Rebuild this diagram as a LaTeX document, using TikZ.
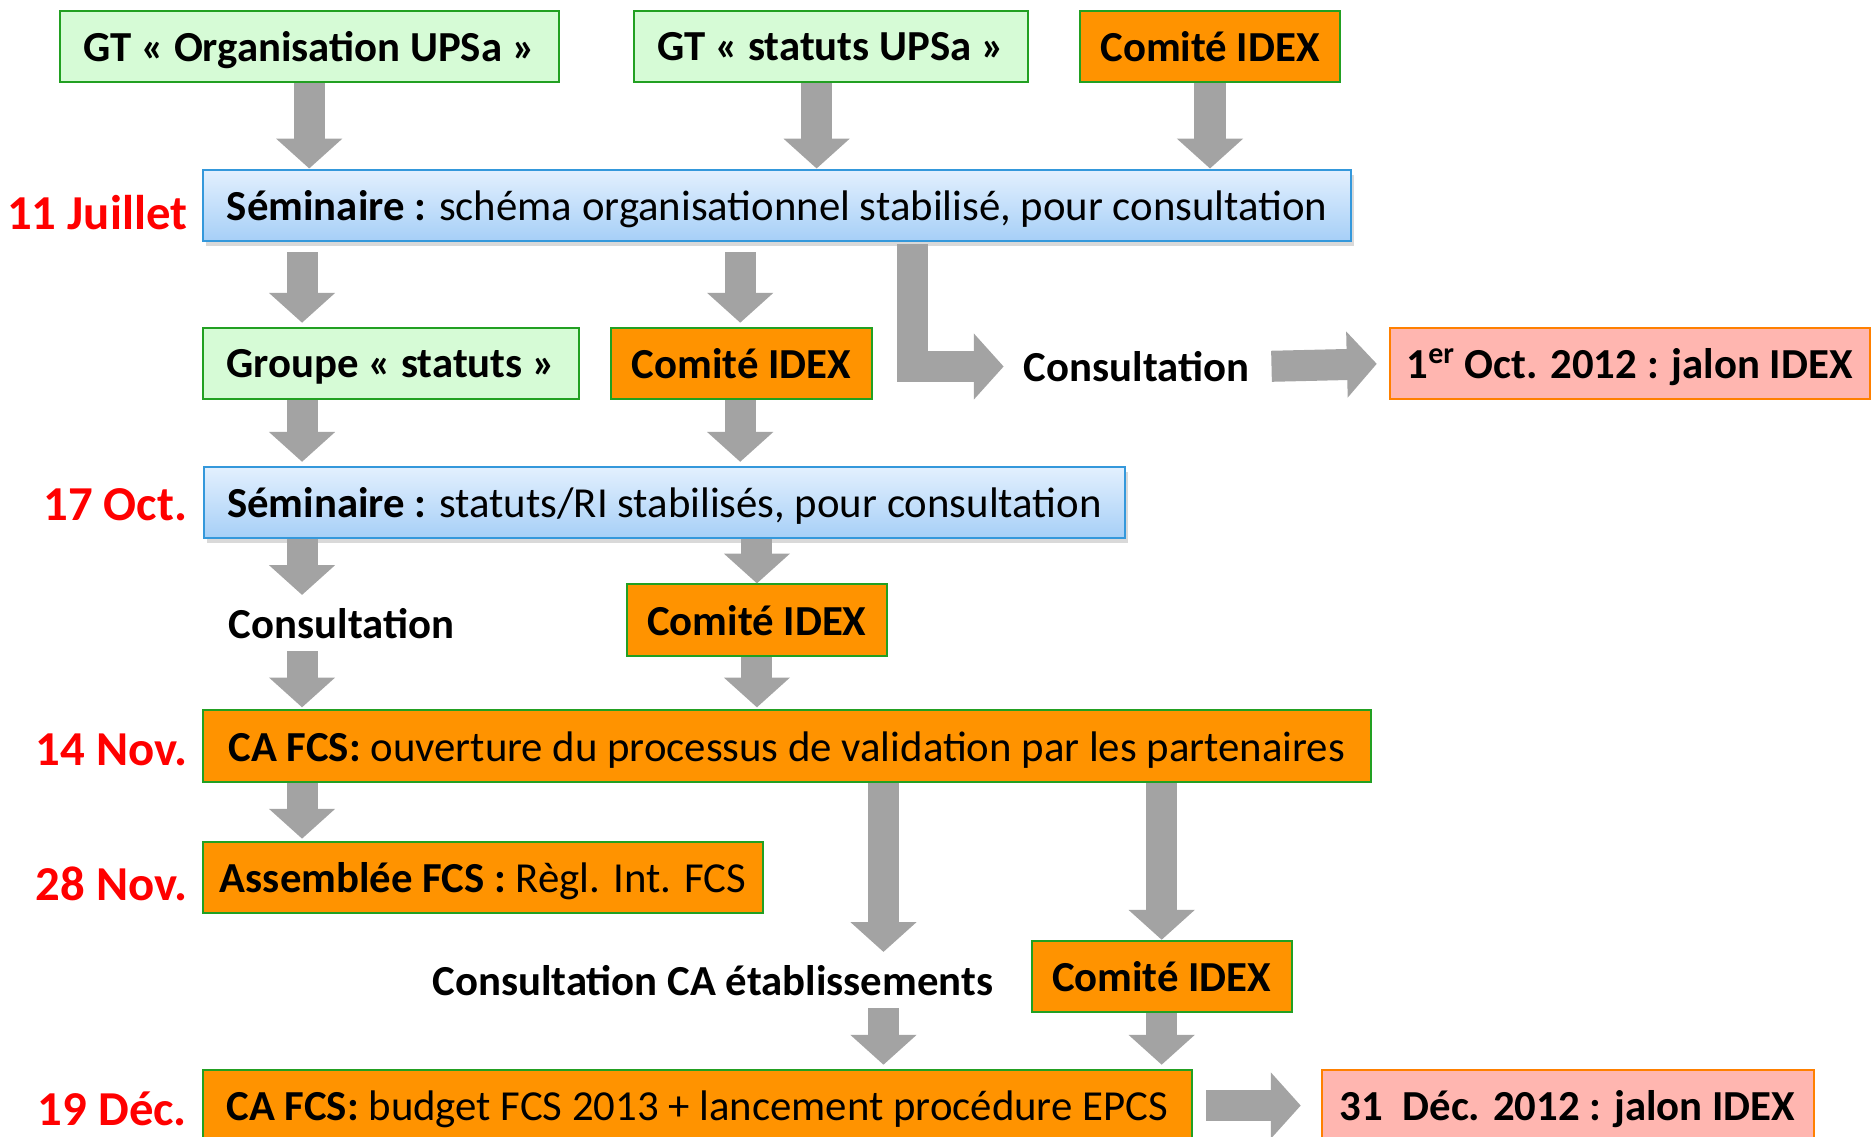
\documentclass[tikz,border=0pt]{standalone}
\usepackage{fontspec}
\setmainfont{Carlito}
\usetikzlibrary{arrows.meta, shadows}

\definecolor{gtgreen}{RGB}{214,251,214}
\definecolor{boxgreen}{RGB}{34,160,34}
\definecolor{idexorange}{RGB}{255,147,0}
\definecolor{jalonpink}{RGB}{255,182,176}
\definecolor{jalonedge}{RGB}{255,128,0}
\definecolor{semtop}{RGB}{227,240,254}
\definecolor{sembottom}{RGB}{166,207,247}
\definecolor{semedge}{RGB}{52,152,219}
\definecolor{arrowgray}{RGB}{163,163,163}

\tikzset{
  box/.style={draw, line width=1pt, minimum height=36pt, inner xsep=6pt, inner ysep=2pt, text depth=0pt, font=\fontsize{21.5}{25}\selectfont},
  gtbox/.style={box, fill=gtgreen, draw=boxgreen, font=\fontsize{21.5}{25}\selectfont\bfseries},
  idexbox/.style={box, fill=idexorange, draw=boxgreen, font=\fontsize{21.5}{25}\selectfont\bfseries},
  cabox/.style={box, fill=idexorange, draw=boxgreen},
  sembox/.style={box, top color=semtop, bottom color=sembottom, draw=semedge,
    drop shadow={opacity=0.3, shadow xshift=1.5pt, shadow yshift=-2.5pt}},
  jalonbox/.style={box, fill=jalonpink, draw=jalonedge, font=\fontsize{21.5}{25}\selectfont\bfseries},
  plain/.style={minimum height=28pt, inner xsep=6pt, text depth=0pt, font=\fontsize{21.5}{25}\selectfont\bfseries},
  date/.style={anchor=east, inner sep=0pt, text=red, font=\fontsize{24.5}{28}\selectfont\bfseries},
  flow/.style={draw=arrowgray, line width=15.6pt, -{Triangle[length=15pt, width=32.4pt]}}
}

\begin{document}
\begin{tikzpicture}[x=0.6pt, y=-0.6pt]
    \useasboundingbox (0,0) rectangle (1568,952);

    % Top row
    \node[gtbox, minimum width=250.8pt] (gtorg) at (259,39) {GT « Organisation UPSa »};
    \node[gtbox, minimum width=198pt] (gtstat) at (696,39) {GT « statuts UPSa »};
    \node[idexbox, minimum width=130.2pt] (idexA) at (1013.5,39) {Comité IDEX};

    % 11 Juillet
    \node[sembox, minimum width=577.2pt] (semA) at (651,172) {\textbf{Séminaire :} schéma organisationnel stabilisé, pour consultation};
    \node[date] (juil) at (157,178) {11 Juillet};

    \node[gtbox, minimum width=189pt] (grp) at (327.5,304.5) {Groupe « statuts »};
    \node[idexbox, minimum width=130.8pt] (idexB) at (621,304.5) {Comité IDEX};
    \node[plain] (consA) at (952,307) {Consultation};
    \node[jalonbox, minimum width=241.2pt] (jalonA) at (1365,304.5) {1\textsuperscript{er} Oct. 2012 : jalon IDEX};

    % 17 Oct.
    \node[sembox, minimum width=462.6pt] (semB) at (556.5,421) {\textbf{Séminaire :} statuts/RI stabilisés, pour consultation};
    \node[date] (oct) at (157,423) {17 Oct.};

    \node[plain] (consB) at (286,522) {Consultation};
    \node[idexbox, minimum width=130.8pt] (idexC) at (634,519.5) {Comité IDEX};

    % 14 Nov.
    \node[cabox, minimum width=586.8pt] (cafcsA) at (659,625) {\textbf{CA FCS:} ouverture du processus de validation par les partenaires};
    \node[date] (novA) at (157,628) {14 Nov.};

    % 28 Nov.
    \node[cabox, minimum width=281.4pt] (assem) at (404.5,735) {\textbf{Assemblée FCS :} Règl. Int. FCS};
    \node[date] (novB) at (157,740) {28 Nov.};

    \node[plain] (consC) at (597,821) {Consultation CA établissements};
    \node[idexbox, minimum width=130.8pt] (idexD) at (973,818) {Comité IDEX};

    % 19 Déc.
    \node[cabox, minimum width=496.8pt] (cafcsB) at (584,926) {\textbf{CA FCS:} budget FCS 2013 + lancement procédure EPCS};
    \node[jalonbox, minimum width=247.2pt] (jalonB) at (1313,926) {31\ \ Déc. 2012 : jalon IDEX};
    \node[date] (dec) at (157,929) {19 Déc.};

    % Arrows
    \draw[flow] (gtorg.south) -- (gtorg.south |- semA.north);
    \draw[flow] (684,0 |- gtstat.south) -- (684,0 |- semA.north);
    \draw[flow] (idexA.south) -- (idexA.south |- semA.north);

    \draw[flow, shorten <=5pt, shorten >=2pt] (253,0 |- semA.south) -- (253,0 |- grp.north);
    \draw[flow, shorten <=5pt, shorten >=2pt] (620,0 |- semA.south) -- (620,0 |- idexB.north);
    \draw[flow, shorten <=1pt, shorten >=4pt] (764,0 |- semA.south) |- (consA.west);
    \draw[flow, shorten <=5pt, shorten >=6pt] (consA.east) -- (jalonA.west);

    \draw[flow, shorten >=2pt] (253,0 |- grp.south) -- (253,0 |- semB.north);
    \draw[flow, shorten >=2pt] (620,0 |- idexB.south) -- (620,0 |- semB.north);

    \draw[flow] (253,0 |- semB.south) -- (253,0 |- consB.north);
    \draw[flow] (idexC.north |- semB.south) -- (idexC.north);

    \draw[flow, shorten >=1pt] (253,0 |- consB.south) -- (253,0 |- cafcsA.north);
    \draw[flow, shorten >=1pt] (idexC.south) -- (idexC.south |- cafcsA.north);

    \draw[flow, shorten >=1pt] (253,0 |- cafcsA.south) -- (253,0 |- assem.north);
    \draw[flow] (740,0 |- cafcsA.south) -- (740,0 |- consC.north);
    \draw[flow] (idexD.north |- cafcsA.south) -- (idexD.north);

    \draw[flow, shorten >=2pt] (740,0 |- consC.south) -- (740,0 |- cafcsB.north);
    \draw[flow, shorten >=2pt] (idexD.south) -- (idexD.south |- cafcsB.north);
    \draw[flow, shorten <=7pt, shorten >=10pt] (cafcsB.east) -- (jalonB.west);
\end{tikzpicture}
\end{document}
